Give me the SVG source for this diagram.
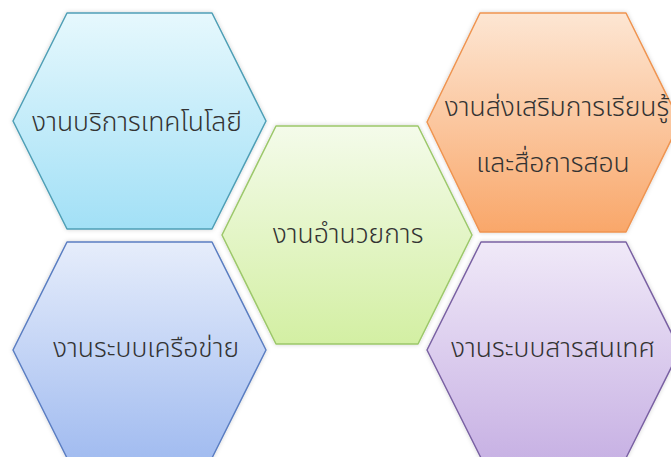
<svg xmlns="http://www.w3.org/2000/svg" width="671" height="457" viewBox="0 0 671 457">
<defs>
<linearGradient id="gCyan" x1="0" y1="0" x2="0" y2="1"><stop offset="0" stop-color="#e6f8fd"/><stop offset="1" stop-color="#a2e0f6"/></linearGradient>
<linearGradient id="gOrange" x1="0" y1="0" x2="0" y2="1"><stop offset="0" stop-color="#fde6d3"/><stop offset="1" stop-color="#f9a76a"/></linearGradient>
<linearGradient id="gGreen" x1="0" y1="0" x2="0" y2="1"><stop offset="0" stop-color="#f4fbea"/><stop offset="1" stop-color="#d3efa3"/></linearGradient>
<linearGradient id="gBlue" x1="0" y1="0" x2="0" y2="1"><stop offset="0" stop-color="#e6edfb"/><stop offset="1" stop-color="#a2bcf0"/></linearGradient>
<linearGradient id="gPurple" x1="0" y1="0" x2="0" y2="1"><stop offset="0" stop-color="#f0e9f8"/><stop offset="1" stop-color="#c8b2e4"/></linearGradient>
<filter id="shadow" x="-10%" y="-10%" width="120%" height="120%"><feDropShadow dx="0" dy="0" stdDeviation="2" flood-color="#000" flood-opacity="0.18"/></filter>
</defs>
<style>
.hex{stroke-width:1.5;stroke-linejoin:round;filter:url(#shadow)}
.lbl{font-family:"Noto Sans Thai","Noto Sans","DejaVu Sans",sans-serif;font-size:26.5px;font-weight:300;fill:#333;text-anchor:middle}
</style>
<g id="node-technology">
<polygon class="hex" points="67,13 212,13 266,121 212,229 67,229 13,121" fill="url(#gCyan)" stroke="#4f9fb6"/>
<text class="lbl" x="137" y="131">งานบริการเทคโนโลยี</text>
</g>
<g id="node-learning">
<polygon class="hex" points="480,13 626,13 680,122 626,232 480,232 427,122" fill="url(#gOrange)" stroke="#ef9450"/>
<text class="lbl" x="557" y="116">งานส่งเสริมการเรียนรู้</text>
<text class="lbl" x="553" y="172">และสื่อการสอน</text>
</g>
<g id="node-director">
<polygon class="hex" points="276,126 418,126 472,235 418,344 276,344 222,235" fill="url(#gGreen)" stroke="#9cc86a"/>
<text class="lbl" x="348" y="243">งานอำนวยการ</text>
</g>
<g id="node-network">
<polygon class="hex" points="67,242 212,242 266,350 212,458 67,458 13,350" fill="url(#gBlue)" stroke="#5b7ec2"/>
<text class="lbl" x="146" y="357">งานระบบเครือข่าย</text>
</g>
<g id="node-information">
<polygon class="hex" points="481,242 626,242 680,350 626,458 481,458 427,350" fill="url(#gPurple)" stroke="#7a62a3"/>
<text class="lbl" x="553" y="357">งานระบบสารสนเทศ</text>
</g>
<g id="connectors"></g>
</svg>
